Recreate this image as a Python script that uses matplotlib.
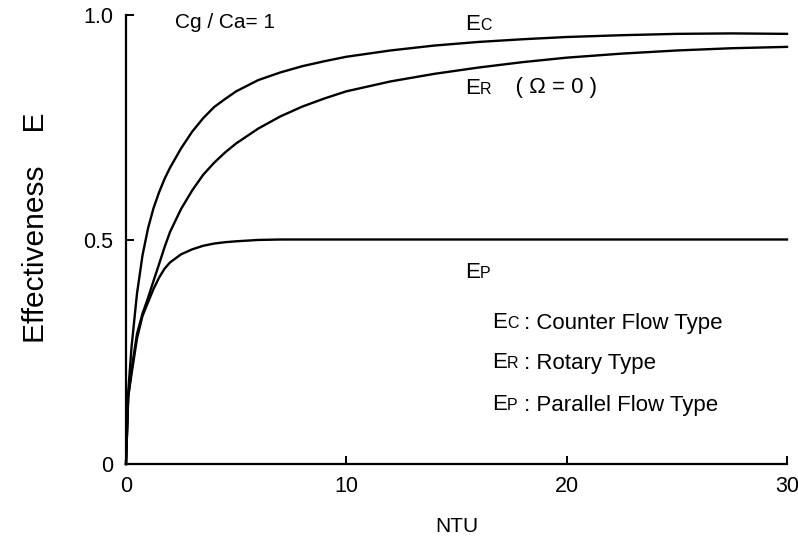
import matplotlib
matplotlib.use("Agg")
import matplotlib.pyplot as plt
from matplotlib.offsetbox import TextArea, HPacker, AnnotationBbox

plt.rcParams['font.family'] = ['Liberation Sans', 'DejaVu Sans']

# ---- data ----
ntu = [0, 0.1, 0.25, 0.5, 0.75, 1, 1.25, 1.5, 1.75, 2, 2.5, 3, 3.5, 4, 4.5, 5, 6, 7, 8, 9,
       10, 12, 14, 16, 18, 20, 22.5, 25, 27.5, 30]
e_counter = [0, 0.16, 0.26, 0.38, 0.465, 0.525, 0.57, 0.605, 0.635, 0.66, 0.703, 0.740, 0.770,
             0.795, 0.813, 0.83, 0.855, 0.872, 0.886, 0.897, 0.907, 0.921, 0.932, 0.94, 0.946,
             0.951, 0.955, 0.958, 0.959, 0.958]
e_rotary = [0, 0.15, 0.21, 0.29, 0.335, 0.37, 0.408, 0.445, 0.483, 0.517, 0.568, 0.609, 0.644,
            0.671, 0.694, 0.714, 0.747, 0.774, 0.796, 0.814, 0.830, 0.852, 0.869, 0.883, 0.895,
            0.905, 0.914, 0.921, 0.926, 0.929]
e_parallel = [0, 0.15, 0.20, 0.28, 0.33, 0.36, 0.39, 0.415, 0.435, 0.449, 0.467, 0.478, 0.486,
              0.491, 0.494, 0.496, 0.499, 0.5, 0.5, 0.5, 0.5, 0.5, 0.5, 0.5, 0.5,
              0.5, 0.5, 0.5, 0.5, 0.5]

xticks = [0, 10, 20, 30]
xticklabels = ["0", "10", "20", "30"]
yticks = [0, 0.5, 1.0]
yticklabels = ["0", "0.5", "1.0"]

fig = plt.figure(figsize=(7.98, 5.46), dpi=100)
ax = fig.add_axes([126/798, 1-464/546, (787-126)/798, (464-15)/546])

for ys in (e_counter, e_rotary, e_parallel):
    ax.plot(ntu, ys, color='black', lw=1.7, solid_joinstyle='round', clip_on=False)

ax.set_xlim(0, 30)
ax.set_ylim(0, 1.0)
for s in ('top', 'right'):
    ax.spines[s].set_visible(False)
for s in ('left', 'bottom'):
    ax.spines[s].set_linewidth(1.6)

ax.set_xticks(xticks)
ax.set_xticklabels(xticklabels)
ax.set_yticks(yticks)
ax.set_yticklabels(yticklabels)
ax.tick_params(direction='in', length=6, width=1.4, labelsize=15.5, pad=9)

ax.set_xlabel("NTU", fontsize=15, labelpad=14)
ax.set_ylabel("Effectiveness    E", fontsize=21.5)
ax.yaxis.set_label_coords((50-126)/661, (464-228)/449)


def sub_label(x, y, main, sub, rest="", size=16, align=(0, 0.5)):
    parts = [TextArea(main, textprops=dict(size=size, color='black')),
             TextArea(sub, textprops=dict(size=size*0.72, color='black'))]
    if rest:
        parts.append(TextArea(rest, textprops=dict(size=size, color='black')))
    pack = HPacker(children=parts, align="baseline", pad=0, sep=0)
    ab = AnnotationBbox(pack, (x, y), xycoords='figure pixels', frameon=False,
                        box_alignment=align, pad=0)
    ax.add_artist(ab)


H = 546
ax.text(175/798, 1-23/H, "Cg / Ca= 1", transform=fig.transFigure, fontsize=15,
        ha='left', va='center')
sub_label(465, H-25, "E", "C", size=16)
sub_label(465, H-88, "E", "R", "    ( Ω = 0 )", size=16)
sub_label(465, H-272, "E", "P", size=16)
sub_label(492, H-323, "E", "C", " : Counter Flow Type", size=16)
sub_label(492, H-363, "E", "R", " : Rotary Type", size=16)
sub_label(492, H-405, "E", "P", " : Parallel Flow Type", size=16)

fig.savefig("out.png", dpi=100)
